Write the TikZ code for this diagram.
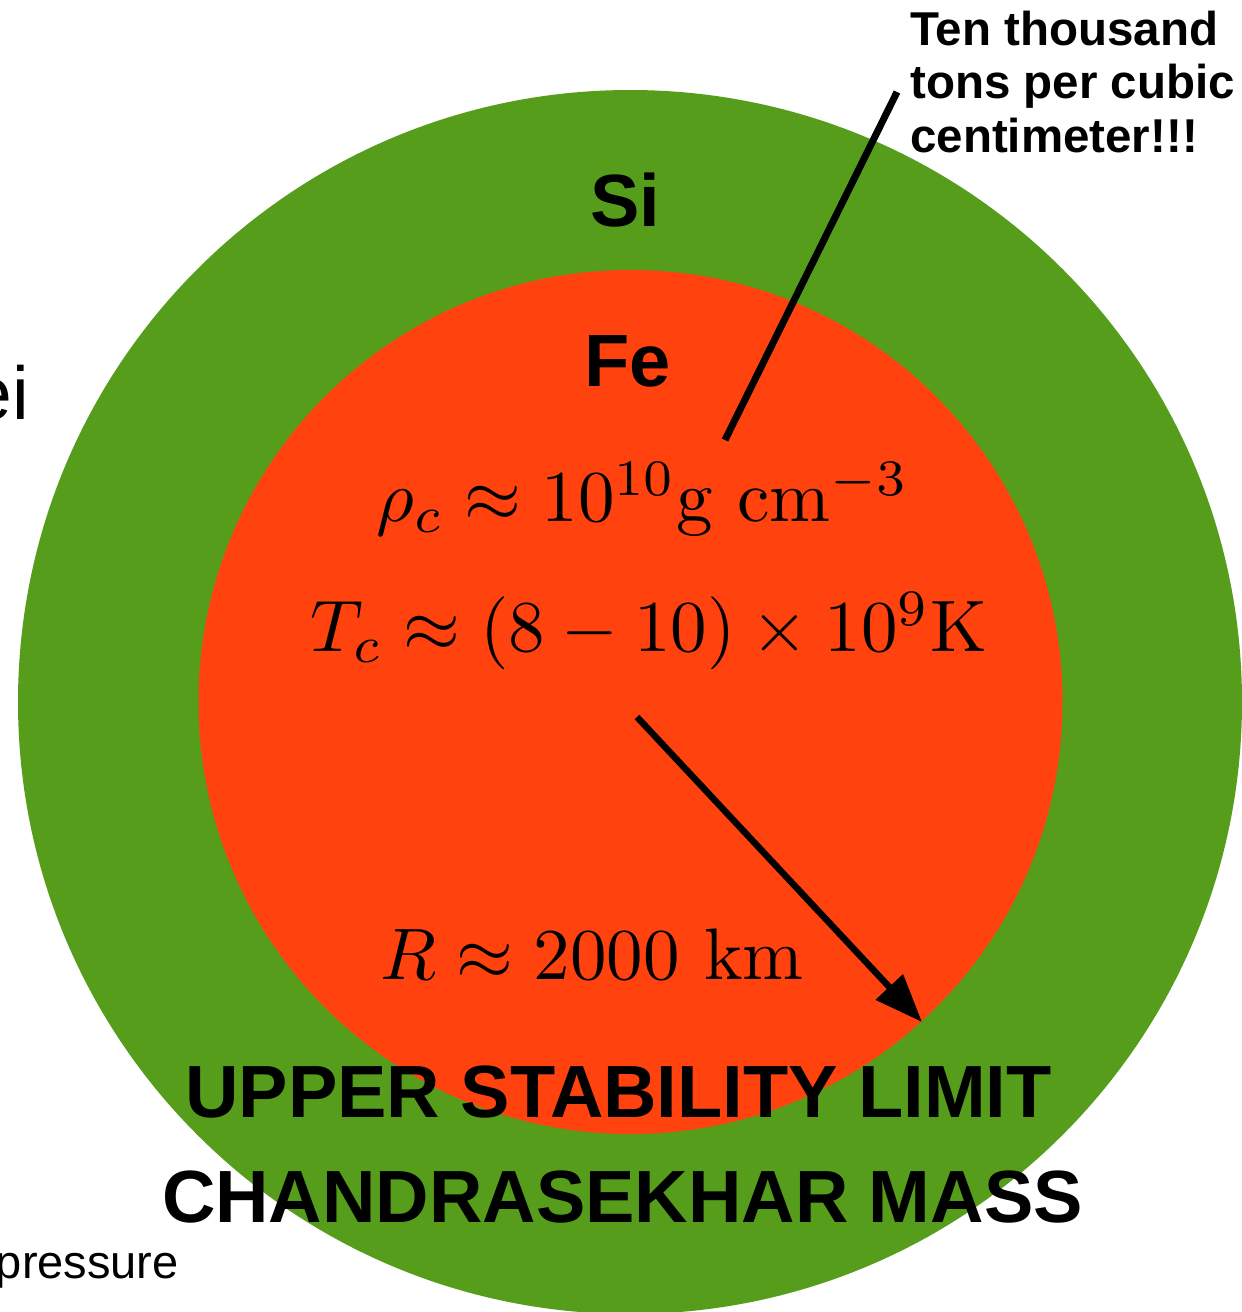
\documentclass[tikz,border=0pt]{standalone}
\usepackage{fontspec}
\newfontfamily\arialfont{Liberation Sans}
\usetikzlibrary{arrows.meta}
\definecolor{sigreen}{HTML}{579D1C}
\definecolor{fered}{HTML}{FF420E}
\begin{document}
\begin{tikzpicture}[x=1pt,y=-1pt,
  bigsans/.style={font=\arialfont\bfseries\fontsize{74}{80}\selectfont, inner sep=0pt, anchor=base},
  regsans/.style={font=\arialfont\fontsize{75}{80}\selectfont, inner sep=0pt},
  regsmall/.style={font=\arialfont\fontsize{47}{53}\selectfont, inner sep=0pt},
  smallsans/.style={font=\arialfont\bfseries\fontsize{47.5}{53.5}\selectfont, inner sep=0pt},
  mathlbl/.style={scale=7.3, inner sep=0pt, anchor=base},
  pointer/.style={line width=7pt},
  bigarrow/.style={line width=6.5pt, -{Triangle[length=48pt,width=36pt]}}]
\useasboundingbox (0,0) rectangle (1242,1312);
\clip (0,0) rectangle (1242,1312);
\fill[white] (0,0) rectangle (1242,1312);
\fill[sigreen] (630,702) circle[radius=612];
\fill[fered] (630.5,702) circle[radius=432];
\node[bigsans] (si) at (625.5,226.7) {Si};
\node[bigsans] (fe) at (627.5,386) {Fe};
\node[mathlbl] (rho) at (643,521.7) {$\rho_c\approx 10^{10}\mathrm{g~cm}^{-3}$};
\node[mathlbl] (temp) at (649,651.7) {$T_c\approx(8-10)\times10^9\mathrm{K}$};
\node[mathlbl] (rad) at (592,979) {$R\approx 2000~\mathrm{km}$};
\node[bigsans] (upper) at (618.5,1117) {UPPER STABILITY LIMIT};
\node[bigsans] (chandra) at (622.5,1222) {CHANDRASEKHAR MASS};
\node[smallsans, anchor=base west, align=left] (ten) at (910,152) {Ten thousand\\tons per cubic\\centimeter!!!};
\node[regsans, anchor=base east] (ei) at (29,419) {ei};
\node[regsmall, anchor=base east] (press) at (179,1278) {pressure};
\coordinate (dens) at (725,440);
\coordinate (tentip) at (897,92);
\draw[pointer] (dens) -- (tentip);
\coordinate (rstart) at (637,717);
\coordinate (rend) at (922,1022);
\draw[bigarrow] (rstart) -- (rend);
\end{tikzpicture}
\end{document}
